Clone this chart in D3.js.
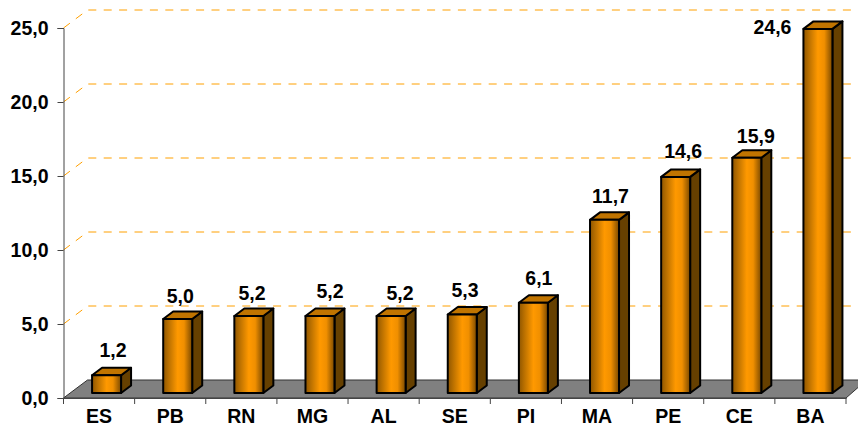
<!DOCTYPE html>
<html><head><meta charset="utf-8">
<script src="https://cdnjs.cloudflare.com/ajax/libs/d3/7.8.5/d3.min.js"></script>
<style>html,body{margin:0;padding:0;background:#fff}svg{display:block}text{font-family:"Liberation Sans",Arial,sans-serif;font-weight:bold;fill:#000}</style>
</head><body><div id="c"></div>
<script>
const categories=["ES","PB","RN","MG","AL","SE","PI","MA","PE","CE","BA"];
const values=[1.2,5.0,5.2,5.2,5.2,5.3,6.1,11.7,14.6,15.9,24.6];
const tickValues=[0,5,10,15,20,25];
// hand-placed data label nudges seen in the reference (px from band centre / bar top)
const labelDx=[14,10,10.6,17.5,16.4,10.3,13,13.5,15,16.5,-38];
const labelDy=[18,16,16,18,16,17.6,17.7,17,18.6,14.7,-5];
const W=858,H=428,dx=24,dy=-18,bdx=10,bdy=-7.5,fs=19.5;
const svg=d3.select("#c").append("svg").attr("width",W).attr("height",H);
const x=d3.scaleBand().domain(categories).range([63.5,846]);
const y=d3.scaleLinear().domain([0,25]).range([398,28]);
const fmt=v=>d3.format(".1f")(v).replace(".",",");
const defs=svg.append("defs");
const g=defs.append("linearGradient").attr("id","bar");
[[0,"#8f5600"],[0.18,"#b86f00"],[0.5,"#ff9900"],[0.72,"#f08f00"],[1,"#7a4900"]].forEach(s=>g.append("stop").attr("offset",s[0]).attr("stop-color",s[1]));
const y0=y(0),xl=x.range()[0],xr=x.range()[1];
svg.append("polygon").attr("points",[[xl,y0],[xl+dx,y0+dy],[W+4,y0+dy],[W+4,y0+dy+4],[xr,y0]].join(" ")).attr("fill","#808080").attr("stroke","#333").attr("stroke-width",1);
const grid=svg.append("g").attr("fill","none").attr("stroke","#ffa000").attr("stroke-width",1).attr("stroke-dasharray","8 7.4");
tickValues.slice(1).forEach(t=>{
 grid.append("path").attr("d",`M${xl},${y(t)}L${xl+dx},${y(t)+dy}L${W},${y(t)+dy}`);
});
const yAxis=d3.axisLeft(y).tickValues(tickValues).tickFormat(fmt).tickSize(6).tickPadding(9);
const ya=svg.append("g").attr("transform",`translate(${xl},0)`).call(yAxis);
const xTicks=d3.range(categories.length+1);
const xAxis=d3.axisBottom(x).tickSize(0).tickPadding(11.5);
const xa=svg.append("g").attr("transform",`translate(0,${y0})`).call(xAxis);
[ya,xa].forEach(a=>{a.selectAll("path,line").attr("stroke","#444").attr("stroke-width",1);a.selectAll("text").attr("font-size",fs).attr("font-family",'"Liberation Sans",Arial,sans-serif').attr("font-weight","bold").attr("fill","#000")});
xa.selectAll("text").attr("dy","0.71em");
xa.selectAll(".sep").data(xTicks).enter().append("line").attr("class","sep").attr("x1",i=>xl+i*x.step()).attr("x2",i=>xl+i*x.step()).attr("y1",0).attr("y2",6).attr("stroke","#444");
const bw=29,base=393,off=7.5;
const bars=svg.append("g").selectAll("g").data(categories).enter().append("g");
const h=v=>y0-y(v);
bars.each(function(c,i){
 const s=d3.select(this),v=values[i],l=x(c)+x.bandwidth()/2+off-bw/2,r=l+bw,t=base-h(v);
 const st={stroke:"#000","stroke-width":2,"stroke-linejoin":"round"};
 const poly=(pts,f)=>{const p=s.append("polygon").attr("points",pts.join(" ")).attr("fill",f);Object.entries(st).forEach(([k,w])=>p.attr(k,w));};
 poly([[r,t],[r+bdx,t+bdy],[r+bdx,base+bdy],[r,base]],"#664000");
 poly([[l,t],[l+bdx,t+bdy],[r+bdx,t+bdy],[r,t]],"#c07400");
 poly([[l,t],[r,t],[r,base],[l,base]],"url(#bar)");
});
svg.append("g").selectAll("text").data(categories).enter().append("text")
 .attr("font-size",fs).attr("text-anchor","middle")
 .attr("x",(c,i)=>x(c)+x.bandwidth()/2+labelDx[i])
 .attr("y",(c,i)=>base-h(values[i])-labelDy[i])
 .text((c,i)=>fmt(values[i]));
</script></body></html>
